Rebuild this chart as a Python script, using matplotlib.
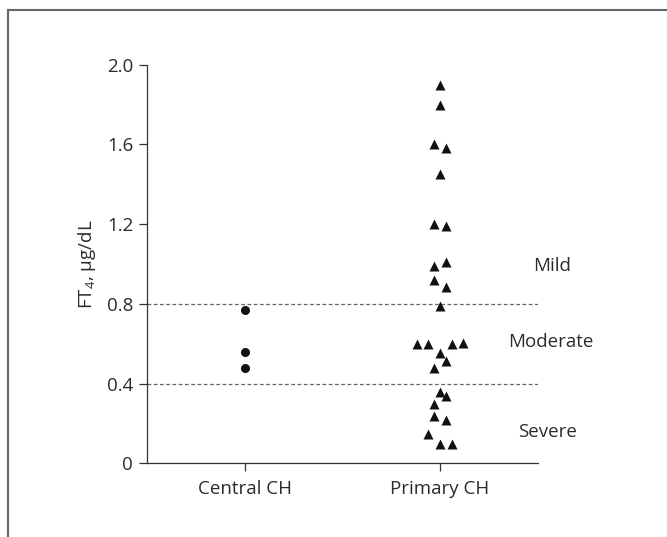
import numpy as np
import matplotlib.pyplot as plt
from matplotlib.lines import Line2D

plt.rcParams['font.family'] = ['Open Sans', 'DejaVu Sans']

# Dados
grupos = ['Central CH', 'Primary CH']
central_ft4 = [0.77, 0.56, 0.48]
primary_ft4 = [1.90, 1.80, 1.60, 1.58, 1.45, 1.20, 1.19, 0.99, 1.01, 0.92,
               0.885, 0.79, 0.60, 0.60, 0.60, 0.605, 0.555, 0.515, 0.48,
               0.36, 0.34, 0.30, 0.235, 0.215, 0.145, 0.095, 0.095]
# deslocamento horizontal de cada ponto (espalhamento dos pontos)
primary_jitter = [0, 0, -0.03, 0.03, 0, -0.03, 0.03, -0.03, 0.03, -0.03,
                  0.03, 0, -0.12, -0.06, 0.06, 0.12, 0, 0.03, -0.03,
                  0, 0.03, -0.03, -0.03, 0.03, -0.06, 0, 0.06]
limiares = [0.8, 0.4]
faixas = ['Mild', 'Moderate', 'Severe']
faixas_y = [0.99, 0.61, 0.155]
faixas_x = [1.575, 1.565, 1.55]
yticks = [0, 0.4, 0.8, 1.2, 1.6, 2.0]
yticklabels = ['0', '0.4', '0.8', '1.2', '1.6', '2.0']

cor_texto = '#2b2b2b'
cor_eixo = '#333333'
tam_fonte = 13.5

fig = plt.figure(figsize=(6.67, 5.37), dpi=100)
ax = fig.add_axes([147 / 667, 1 - 463.3 / 537, 390.7 / 667, 398.6 / 537])

# moldura (apenas topo e esquerda visíveis)
fig.add_artist(Line2D([8 / 667, 1], [1 - 10 / 537, 1 - 10 / 537],
                      transform=fig.transFigure, color='#666666', lw=1.5))
fig.add_artist(Line2D([8 / 667, 8 / 667], [0, 1 - 10 / 537],
                      transform=fig.transFigure, color='#666666', lw=1.5))

# linhas de limiar
for y in limiares:
    ax.axhline(y, color='#666666', lw=0.9, ls=(0, (3, 2)), zorder=1)

# pontos
ax.plot(np.zeros(len(central_ft4)), central_ft4, 'o', color='#111111',
        ms=6.5, mec='none', zorder=3, clip_on=False)
ax.plot(1 + np.array(primary_jitter), primary_ft4, '^', color='#111111',
        ms=7, mec='none', zorder=3, clip_on=False)

for nome, x, y in zip(faixas, faixas_x, faixas_y):
    ax.text(x, y, nome, ha='center', va='center', fontsize=tam_fonte,
            color=cor_texto, clip_on=False)

ax.set_xlim(-0.5, 1.5)
ax.set_ylim(0, 2.0)
ax.set_xticks([0, 1])
ax.set_xticklabels(grupos)
ax.set_yticks(yticks)
ax.set_yticklabels(yticklabels)
ax.set_ylabel('FT$_{\\mathregular{4}}$, μg/dL', fontsize=tam_fonte,
              color=cor_texto, labelpad=6)

for lado in ['top', 'right']:
    ax.spines[lado].set_visible(False)
for lado in ['left', 'bottom']:
    ax.spines[lado].set_color(cor_eixo)
    ax.spines[lado].set_linewidth(0.9)

ax.tick_params(axis='both', length=6, width=0.9, color=cor_eixo,
               labelsize=tam_fonte, labelcolor=cor_texto)
ax.tick_params(axis='y', pad=4)
ax.tick_params(axis='x', pad=6)

plt.savefig('out.png', format='png')
plt.close(fig)
